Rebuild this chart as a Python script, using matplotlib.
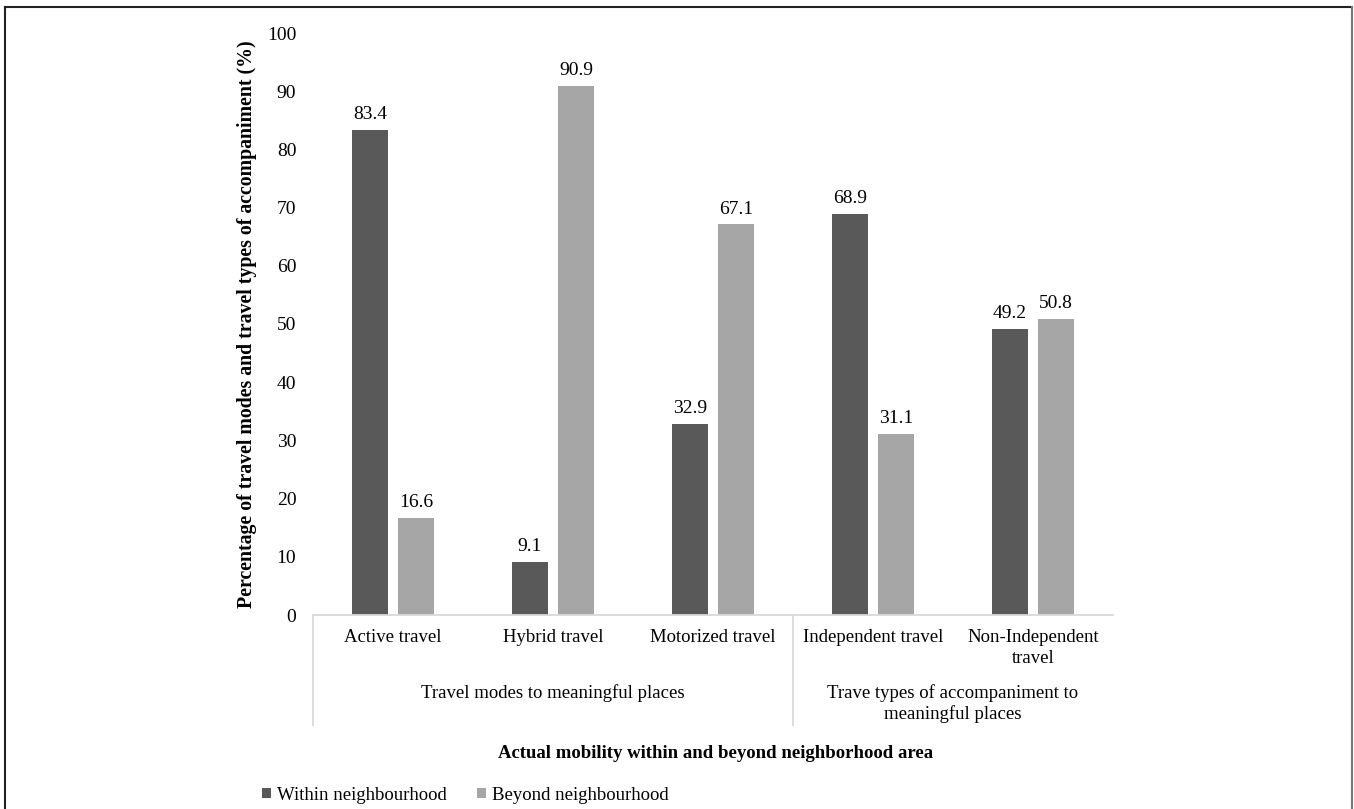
import numpy as np
import matplotlib
matplotlib.use("Agg")
import matplotlib.pyplot as plt
from matplotlib.lines import Line2D
import matplotlib.transforms as mtransforms

# Data
categories = ["Active travel", "Hybrid travel", "Motorized travel",
              "Independent travel", "Non-Independent\ntravel"]
within = [83.4, 9.1, 32.9, 68.9, 49.2]
beyond = [16.6, 90.9, 67.1, 31.1, 50.8]
groups = ["Travel modes to meaningful places",
          "Trave types of accompaniment to\nmeaningful places"]
group_spans = [(0, 2), (3, 4)]
yticks = list(range(0, 101, 10))

plt.rcParams['font.family'] = ['Liberation Serif', 'DejaVu Serif']

dark = '#595959'
light = '#a6a6a6'
fs = 13.5

fig = plt.figure(figsize=(13.54, 8.09), dpi=100)
ax = fig.add_axes([313 / 1354, 1 - 615 / 809, 800 / 1354, 582 / 809])

x = np.arange(len(categories))
w = 0.225
off = 0.145
b1 = ax.bar(x - off, within, w, color=dark, label='Within neighbourhood')
b2 = ax.bar(x + off, beyond, w, color=light, label='Beyond neighbourhood')

for bars, vals in [(b1, within), (b2, beyond)]:
    for rect, v in zip(bars, vals):
        ax.annotate(f"{v:.1f}", (rect.get_x() + rect.get_width() / 2, v),
                    xytext=(0, 5), textcoords='offset points',
                    ha='center', va='bottom', fontsize=14)

ax.set_xlim(-0.5, len(categories) - 0.5)
ax.set_ylim(0, 100)
ax.set_yticks(yticks)
ax.tick_params(axis='y', length=0, pad=12, labelsize=14)
ax.set_xticks(x)
ax.set_xticklabels(categories, fontsize=fs, linespacing=1.3)
ax.tick_params(axis='x', length=0, pad=10)

for s in ['top', 'right', 'left']:
    ax.spines[s].set_visible(False)
ax.spines['bottom'].set_color('#d9d9d9')
ax.spines['bottom'].set_linewidth(1.3)

# group labels and separators below the category axis
trans = mtransforms.blended_transform_factory(ax.transData, ax.transAxes)
for (a, b), name in zip(group_spans, groups):
    ax.text((a + b) / 2, -(693 - 615) / 582, name.split('\n')[0],
            transform=trans, ha='center', va='center', fontsize=fs)
    if '\n' in name:
        ax.text((a + b) / 2, -(714 - 615) / 582, name.split('\n')[1],
                transform=trans, ha='center', va='center', fontsize=fs)
sep_bottom = -110 / 582
for xs in [-0.5, 2.5]:
    ax.plot([xs, xs], [0, sep_bottom], transform=trans, color='#d9d9d9',
            lw=1.3, clip_on=False)

ax.set_ylabel("Percentage of travel modes and travel types of accompaniment (%)",
              fontsize=14.3, fontweight='bold', labelpad=7)

fig.text(716 / 1354, 1 - 753 / 809,
         "Actual mobility within and beyond neighborhood area",
         ha='center', va='center', fontsize=fs, fontweight='bold')

fig.legend(handles=[b1, b2], loc='center left',
           bbox_to_anchor=(262 / 1354, 1 - 795 / 809), ncol=2, frameon=False,
           fontsize=fs, handlelength=0.5, handleheight=0.5,
           handletextpad=0.3, columnspacing=1.6, borderaxespad=0,
           borderpad=0)

# frame around the figure
fig.add_artist(Line2D([5 / 1354, 1352 / 1354], [1 - 7 / 809, 1 - 7 / 809],
                      color='#222222', lw=1.5, transform=fig.transFigure))
fig.add_artist(Line2D([5 / 1354, 5 / 1354], [0, 1 - 7 / 809],
                      color='#222222', lw=1.5, transform=fig.transFigure))
fig.add_artist(Line2D([1352 / 1354, 1352 / 1354], [0, 1 - 7 / 809],
                      color='#777777', lw=1.5, transform=fig.transFigure))

fig.savefig("out.png", dpi=100)
